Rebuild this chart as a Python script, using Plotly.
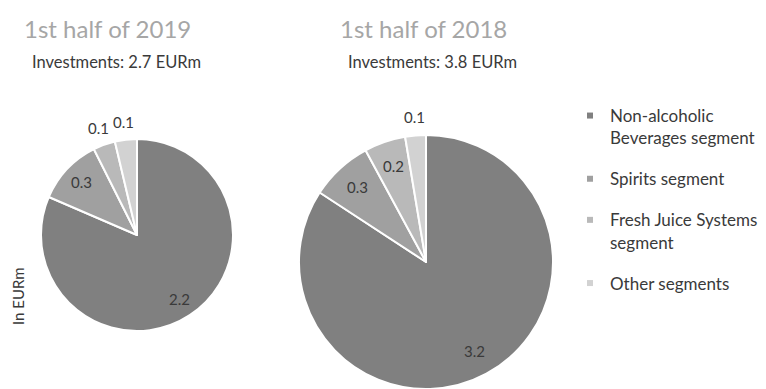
import math
import plotly.graph_objects as go

# Figure size in pixels
W, H = 766, 389

# Data
segments = [
    "Non-alcoholic<br>Beverages segment",
    "Spirits segment",
    "Fresh Juice Systems<br>segment",
    "Other segments",
]
values_2019 = [2.2, 0.3, 0.1, 0.1]
values_2018 = [3.2, 0.3, 0.2, 0.1]
period_titles = ["1st half of 2019", "1st half of 2018"]
unit_label = "In EURm"

# Styling
colors = ["#808080", "#a0a0a0", "#b9b9b9", "#d2d2d2"]
FONT = "Lato"
TEXT_DARK = "#3a3a3a"
TITLE_GRAY = "#a6a6a6"

# Pie placement (pixel centre and radius, top-left origin)
pies = [
    dict(values=values_2019, cx=137, cy=235, r=96, title=period_titles[0], tx=22),
    dict(values=values_2018, cx=426, cy=262, r=127, title=period_titles[1], tx=338),
]


def px_to_paper(x, y):
    return x / W, 1 - y / H


fig = go.Figure()
annotations = []

for p in pies:
    x0, y1 = px_to_paper(p["cx"] - p["r"], p["cy"] - p["r"])
    x1, y0 = px_to_paper(p["cx"] + p["r"], p["cy"] + p["r"])
    fig.add_trace(go.Pie(
        labels=segments,
        values=p["values"],
        sort=False,
        direction="clockwise",
        rotation=0,
        textinfo="none",
        hoverinfo="label+value",
        marker=dict(colors=colors, line=dict(color="white", width=2)),
        domain=dict(x=[max(x0, 0), min(x1, 1)], y=[max(y0, 0), min(y1, 1)]),
        showlegend=False,
    ))

    # value labels positioned at each slice's mid-angle
    total = sum(p["values"])
    start = 0.0
    for v in p["values"]:
        frac = v / total
        mid = (start + frac / 2) * 2 * math.pi
        start += frac
        dist = 0.8 * p["r"] if frac > 0.045 else p["r"] + 18
        lx = p["cx"] + dist * math.sin(mid)
        ly = p["cy"] - dist * math.cos(mid)
        ax, ay = px_to_paper(lx, ly)
        annotations.append(dict(
            x=ax, y=ay, xref="paper", yref="paper", text=f"{v:.1f}",
            showarrow=False, xanchor="center", yanchor="middle",
            font=dict(family=FONT, size=15, color=TEXT_DARK),
        ))

    # period title and total investment
    tx, ty = px_to_paper(p["tx"], 28)
    annotations.append(dict(
        x=tx, y=ty, xref="paper", yref="paper", text=p["title"],
        showarrow=False, xanchor="left", yanchor="middle",
        font=dict(family=FONT, size=24, color=TITLE_GRAY),
    ))
    sx, sy = px_to_paper(p["tx"] + 8, 62)
    annotations.append(dict(
        x=sx, y=sy, xref="paper", yref="paper",
        text=f"Investments: {total:.1f} EURm",
        showarrow=False, xanchor="left", yanchor="middle",
        font=dict(family=FONT, size=16.5, color=TEXT_DARK),
    ))

# unit label on the left
ux, uy = px_to_paper(18, 296)
annotations.append(dict(
    x=ux, y=uy, xref="paper", yref="paper", text=unit_label, textangle=-90,
    showarrow=False, xanchor="center", yanchor="middle",
    font=dict(family=FONT, size=15, color=TEXT_DARK),
))

# legend entries with small square symbols, one group per segment
for i, (name, col) in enumerate(zip(segments, colors)):
    fig.add_trace(go.Scatter(
        x=[None], y=[None], mode="markers", name=name,
        marker=dict(symbol="square", size=6, color=col),
        legendgroup=f"g{i}", showlegend=True,
    ))

lx, ly = px_to_paper(570, 98)
fig.update_layout(
    width=W, height=H,
    margin=dict(l=0, r=0, t=0, b=0),
    paper_bgcolor="white", plot_bgcolor="white",
    xaxis=dict(visible=False), yaxis=dict(visible=False),
    annotations=annotations,
    legend=dict(
        x=lx, y=ly, xanchor="left", yanchor="top",
        font=dict(family=FONT, size=17, color=TEXT_DARK),
        valign="top", tracegroupgap=16, traceorder="grouped",
        bgcolor="rgba(0,0,0,0)",
    ),
)

fig.write_html("out.html")
